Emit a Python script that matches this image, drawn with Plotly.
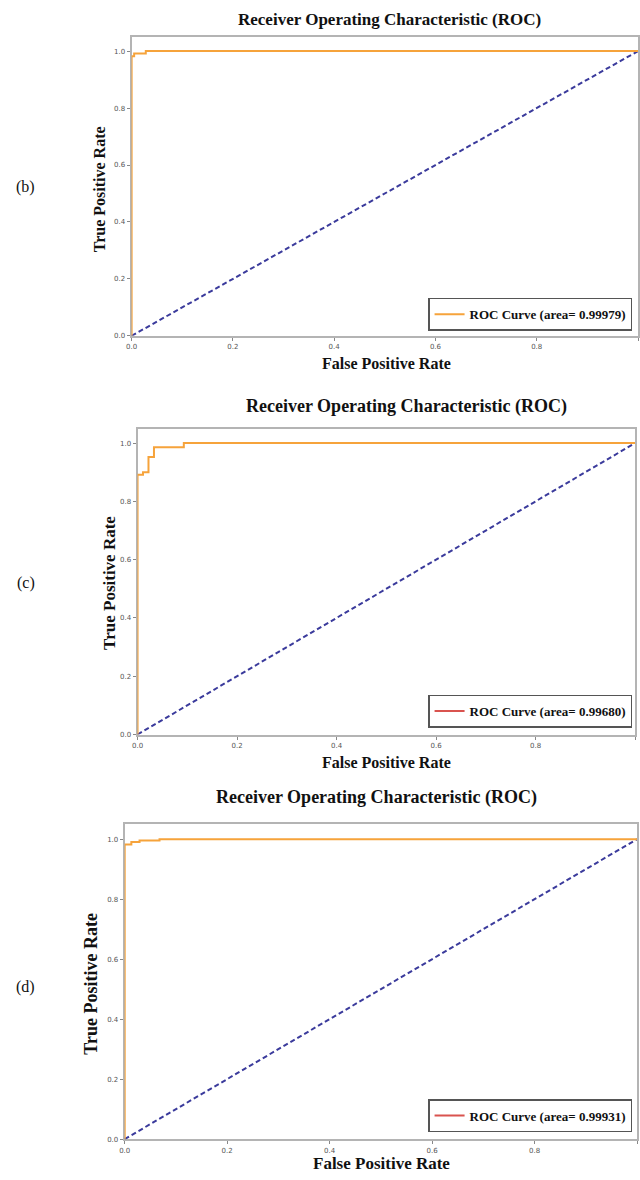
import plotly.graph_objects as go

W, H = 640, 1180

# ---- data ----
panel_labels = ["(b)", "(c)", "(d)"]
title_text = "Receiver Operating Characteristic (ROC)"
x_title = "False Positive Rate"
y_title = "True Positive Rate"
legend_names = ["ROC Curve (area= 0.99979)", "ROC Curve (area= 0.99680)", "ROC Curve (area= 0.99931)"]

fpr_b = [0, 0, 0.005, 0.005, 0.028, 0.028, 1.0]
tpr_b = [0, 0.982, 0.982, 0.992, 0.992, 1.0, 1.0]

fpr_c = [0, 0, 0.011, 0.011, 0.022, 0.022, 0.033, 0.033, 0.093, 0.093, 1.0]
tpr_c = [0, 0.891, 0.891, 0.900, 0.900, 0.952, 0.952, 0.986, 0.986, 1.0, 1.0]

fpr_d = [0, 0, 0.013, 0.013, 0.029, 0.029, 0.068, 0.068, 1.0]
tpr_d = [0, 0.982, 0.982, 0.991, 0.991, 0.996, 0.996, 1.0, 1.0]

chance_x = [0, 1]
chance_y = [0, 1]

tick_vals = [0.0, 0.2, 0.4, 0.6, 0.8, 1.0]
tick_text = ["0.0", "0.2", "0.4", "0.6", "0.8", "1.0"]

ORANGE = "#f6a33b"
NAVY = "#3b3b9c"
RED = "#d9534f"

# ---- layout geometry (page pixels) ----
panels = [
    dict(x0=127, x1=639, top=37, bot=337, title=(388, 20, 17), xt=(385, 365, 16), yt=(94, 190, 16),
         lab=(20, 188), leg=(633, 332), legcol=ORANGE, fpr=fpr_b, tpr=tpr_b),
    dict(x0=133, x1=636, top=430, bot=737, title=(405, 408, 18), xt=(385, 765, 16), yt=(104, 585, 17),
         lab=(20, 585), leg=(633, 730), legcol=RED, fpr=fpr_c, tpr=tpr_c),
    dict(x0=120, x1=638, top=827, bot=1143, title=(375, 800, 18), xt=(380, 1167, 17), yt=(86, 987, 18),
         lab=(20, 990), leg=(633, 1136), legcol=RED, fpr=fpr_d, tpr=tpr_d),
]

def px(x):
    return min(1.0, x / W)

def py(y):
    return max(0.0, 1 - y / H)

fig = go.Figure()
layout = dict(width=W, height=H, margin=dict(l=0, r=0, t=0, b=0),
              paper_bgcolor="white", plot_bgcolor="white", showlegend=True)
annotations = []
serif = "Liberation Serif"

for i, p in enumerate(panels):
    sfx = "" if i == 0 else str(i + 1)
    xa, ya = "x" + sfx, "y" + sfx
    leg = "legend" + sfx
    axis_common = dict(showgrid=False, zeroline=False, showline=True, mirror=True,
                       linecolor="#b4b4b4", linewidth=2, ticks="outside", ticklen=3,
                       tickwidth=1, tickcolor="#888", tickvals=tick_vals, ticktext=tick_text,
                       tickfont=dict(family="DejaVu Sans", size=7, color="#555"),
                       layer="below traces")
    layout["xaxis" + sfx] = dict(axis_common, domain=[px(p["x0"]), px(p["x1"])], range=[0, 1],
                                 anchor=ya)
    layout["yaxis" + sfx] = dict(axis_common, domain=[py(p["bot"]), py(p["top"])], range=[0, 1.05],
                                 anchor=xa)
    layout[leg] = dict(x=px(p["leg"][0]), y=py(p["leg"][1]), xanchor="right", yanchor="bottom",
                       bgcolor="white", bordercolor="#555", borderwidth=1.5,
                       font=dict(family=serif, size=13, color="#111", weight="bold"),
                       itemwidth=30, tracegroupgap=0)

    fig.add_trace(go.Scatter(x=chance_x, y=chance_y, mode="lines", xaxis=xa, yaxis=ya,
                             line=dict(color=NAVY, width=2, dash="5px,3px"), showlegend=False,
                             hoverinfo="skip"))
    fig.add_trace(go.Scatter(x=p["fpr"], y=p["tpr"], mode="lines", xaxis=xa, yaxis=ya,
                             line=dict(color=ORANGE, width=2), showlegend=(i == 0),
                             name=legend_names[i], legend=leg))
    if i > 0:
        fig.add_trace(go.Scatter(x=[None], y=[None], mode="lines", xaxis=xa, yaxis=ya,
                                 line=dict(color=p["legcol"], width=2), name=legend_names[i],
                                 legend=leg, showlegend=True))

    tx, ty, ts = p["title"]
    annotations.append(dict(text="<b>" + title_text + "</b>", x=px(tx), y=py(ty), xref="paper",
                            yref="paper", showarrow=False, xanchor="center", yanchor="middle",
                            font=dict(family=serif, size=ts, color="#111")))
    xx, xy, xs = p["xt"]
    annotations.append(dict(text="<b>" + x_title + "</b>", x=px(xx), y=py(xy), xref="paper",
                            yref="paper", showarrow=False, xanchor="center", yanchor="middle",
                            font=dict(family=serif, size=xs, color="#111")))
    yx, yy, ys = p["yt"]
    annotations.append(dict(text="<b>" + y_title + "</b>", x=px(yx), y=py(yy), xref="paper",
                            yref="paper", showarrow=False, xanchor="center", yanchor="middle",
                            textangle=-90, font=dict(family=serif, size=ys, color="#111")))
    lx, ly = p["lab"]
    annotations.append(dict(text=panel_labels[i], x=px(lx), y=py(ly), xref="paper", yref="paper",
                            showarrow=False, xanchor="center", yanchor="middle",
                            font=dict(family=serif, size=16, color="#111")))

layout["annotations"] = annotations
fig.update_layout(**layout)
fig.write_html(
    "out.html",
    config={"displayModeBar": False},
    post_script="document.body.style.margin='0';document.documentElement.style.overflow='hidden';",
)
